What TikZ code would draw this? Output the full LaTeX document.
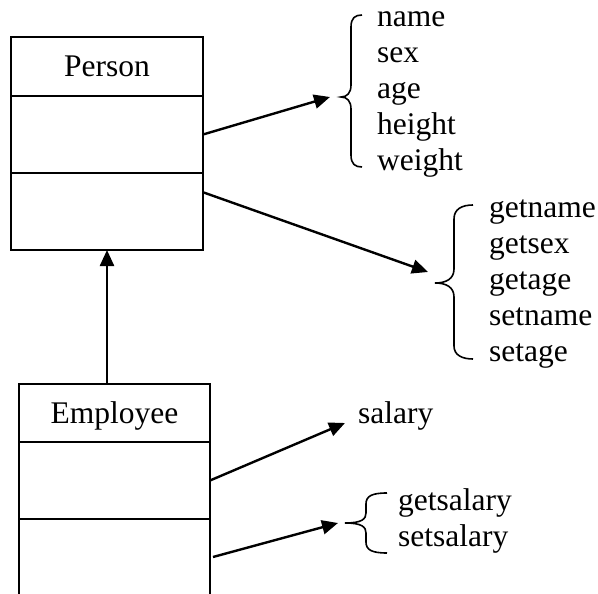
\documentclass[tikz,border=0pt]{standalone}
\usepackage{fontspec}
\setmainfont{Liberation Serif}
\usetikzlibrary{arrows.meta,calc}
\begin{document}
\begin{tikzpicture}[x=1pt,y=-1pt,
  comp/.style={draw,line width=2.2pt,minimum width=192pt,inner sep=0pt,outer sep=0pt},
  lbl/.style={font=\fontsize{31.5pt}{36pt}\selectfont,inner sep=0pt,anchor=base west},
  ttl/.style={font=\fontsize{31.5pt}{36pt}\selectfont,inner sep=0pt,anchor=base},
  conn/.style={line width=2.4pt,-{Triangle[length=16pt,width=14pt]}},
  bracestyle/.style={line width=1.6pt}]
\useasboundingbox (0,0) rectangle (598,594);
% Person class
\node[comp,minimum height=59pt] (p1) at (107,66.5) {};
\node[comp,minimum height=77pt] (p2) at (107,134.5) {};
\node[comp,minimum height=77pt] (p3) at (107,211.5) {};
\node[ttl] (pn) at (107,77) {Person};
% Employee class
\node[comp,minimum width=191pt,minimum height=58pt] (e1) at (114.5,413) {};
\node[comp,minimum width=191pt,minimum height=77pt] (e2) at (114.5,480.5) {};
\coordinate (e3nw) at (19,519);
\coordinate (e3ne) at (210,519);
\draw[line width=2.2pt] (e3nw) -- (19,596) (e3ne) -- (210,596);
\node[ttl] (en) at (114.5,423) {Employee};
% inheritance
\draw[conn] (p3.south |- e1.north) -- (p3.south);
% attribute list
\foreach \t/\n [count=\i from 0] in {name/a1,sex/a2,age/a3,height/a4,weight/a5}
  \node[lbl] (\n) at (377,27+36*\i) {\t};
\draw[bracestyle] (362,15) .. controls (355,15) and (351,18) .. (351,27) -- (351,85)
  .. controls (351,93) and (347,97) .. (341,97) .. controls (347,97) and (351,101) .. (351,109)
  -- (351,155) .. controls (351,164) and (355,167) .. (362,167);
\coordinate (t1) at (330,97);
\draw[conn] (p2.east) -- (t1);
% method list
\foreach \t/\n [count=\i from 0] in {getname/m1,getsex/m2,getage/m3,setname/m4,setage/m5}
  \node[lbl] (\n) at (489,217+36*\i) {\t};
\draw[bracestyle] (473,205) .. controls (462,205) and (454,209) .. (454,219) -- (454,269)
  .. controls (454,279) and (446,283) .. (435,283) .. controls (446,283) and (454,287) .. (454,297)
  -- (454,346) .. controls (454,355) and (462,359) .. (473,359);
\coordinate (t2) at (428,272);
\draw[conn] ($(p3.north east)!0.25!(p3.south east)$) -- (t2);
% salary
\node[lbl] (s1) at (358,423) {salary};
\coordinate (t3) at (345,423);
\draw[conn] (e2.east) -- (t3);
% salary methods
\node[lbl] (g1) at (398,510) {getsalary};
\node[lbl] (g2) at (398,546) {setsalary};
\draw[bracestyle] (387,493) .. controls (372,493) and (366,496) .. (366,504) -- (366,513)
  .. controls (366,519) and (362,523) .. (345,523) .. controls (362,523) and (366,527) .. (366,533)
  -- (366,542) .. controls (366,550) and (372,553) .. (387,553);
\coordinate (t4) at (338,523);
\draw[conn] (213,557) -- (t4);
\end{tikzpicture}
\end{document}
